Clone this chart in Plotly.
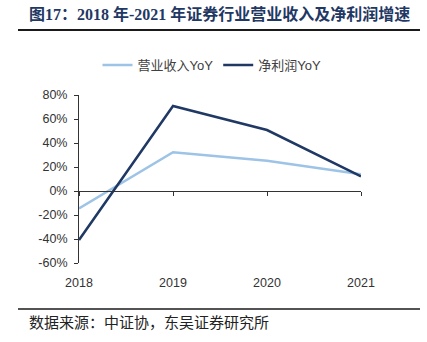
import plotly.graph_objects as go

years = ["2018", "2019", "2020", "2021"]
revenue_yoy = [-14.5, 32.3, 25.3, 14.0]
profit_yoy = [-40.8, 70.8, 50.8, 12.2]
y_ticks = [80, 60, 40, 20, 0, -20, -40, -60]

W, H = 427, 342
L, R, T, B = 79, 361, 95, 263


def fx(px):
    return (px - L) / (R - L)


def fy(py):
    return (B - py) / (B - T)


xs = list(range(len(years)))
fig = go.Figure()
fig.add_trace(go.Scatter(x=xs, y=revenue_yoy, mode="lines", name="营业收入YoY",
                         line=dict(color="#9DC3E6", width=2.5)))
fig.add_trace(go.Scatter(x=xs, y=profit_yoy, mode="lines", name="净利润YoY",
                         line=dict(color="#1F3864", width=2.5)))
# invisible trace for the tick-mark axis at y = 0
fig.add_trace(go.Scatter(x=xs, y=[0] * len(xs), xaxis="x2", mode="lines",
                         line=dict(width=0), showlegend=False, hoverinfo="skip"))

ymin, ymax = -60, 80
pos0 = (0 - ymin) / (ymax - ymin)

fig.update_layout(
    width=W, height=H,
    margin=dict(l=L, r=W - R, t=T, b=H - B),
    paper_bgcolor="white", plot_bgcolor="white",
    font=dict(family="Arial, Liberation Sans, Noto Sans CJK SC", size=12, color="#333333"),
    showlegend=True,
    legend=dict(orientation="h", x=fx(212), y=fy(65), xanchor="center", yanchor="middle",
                font=dict(size=13, color="#404040", family="Arial, Noto Sans CJK SC"),
                itemwidth=30, tracegroupgap=0, bgcolor="rgba(0,0,0,0)"),
    xaxis=dict(range=[0, 3], tickvals=xs, ticktext=years, showline=False, showgrid=False,
               zeroline=False, ticks="", ticklabelstandoff=10,
               tickfont=dict(size=12.5, color="#333333")),
    xaxis2=dict(overlaying="x", anchor="free", position=pos0, range=[0, 3], tickvals=xs,
                showticklabels=False, showline=True, linecolor="#333333", linewidth=1,
                ticks="outside", ticklen=4, tickcolor="#333333", showgrid=False,
                zeroline=False, side="bottom"),
    yaxis=dict(range=[ymin, ymax], tickvals=y_ticks, ticktext=[f"{v}%" for v in y_ticks],
               showline=True, linecolor="#333333", linewidth=1, ticks="outside", ticklen=4,
               tickcolor="#333333", showgrid=False, zeroline=False, ticklabelstandoff=4,
               tickfont=dict(size=12.5, color="#333333")),
)

fig.add_annotation(text="<b>图17：2018 年-2021 年证券行业营业收入及净利润增速</b>",
                   xref="paper", yref="paper", x=fx(27), y=fy(14), xanchor="left",
                   yanchor="middle", showarrow=False,
                   font=dict(size=16, color="#1F3864",
                             family="Liberation Serif, Noto Sans CJK SC"))
fig.add_annotation(text="数据来源：中证协，东吴证券研究所",
                   xref="paper", yref="paper", x=fx(27), y=fy(321), xanchor="left",
                   yanchor="middle", showarrow=False,
                   font=dict(size=15, color="#222222", family="Noto Sans CJK SC"))

fig.add_shape(type="line", xref="paper", yref="paper", x0=fx(18), x1=fx(420),
              y0=fy(30), y1=fy(30), line=dict(color="#1a1a1a", width=2))
fig.add_shape(type="line", xref="paper", yref="paper", x0=fx(18), x1=fx(420),
              y0=fy(309), y1=fy(309), line=dict(color="#1a1a1a", width=1.5))

fig.write_html("out.html")
